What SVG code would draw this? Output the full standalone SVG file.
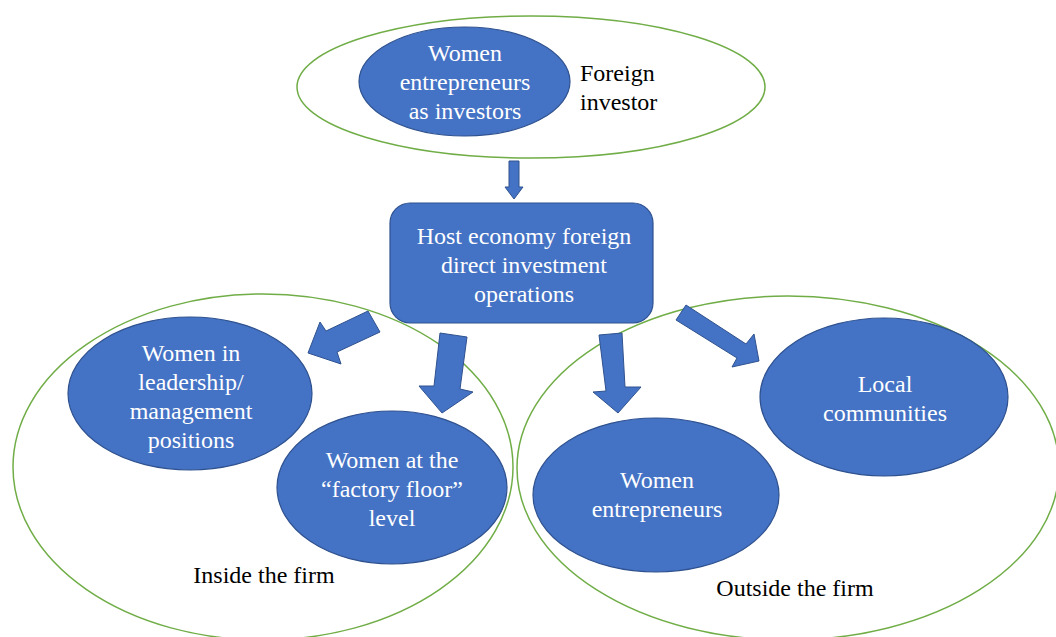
<svg xmlns="http://www.w3.org/2000/svg" width="1056" height="637" viewBox="0 0 1056 637">
<defs>
<style>
.grp{fill:none;stroke:#70AD47;stroke-width:1.5}
.node{fill:#4472C4;stroke:#2F528F;stroke-width:1.2}
.wt{fill:#FFFFFF;text-anchor:middle}
.bt{fill:#000000}
.arr{fill:#4472C4;stroke:#2F528F;stroke-width:1}
</style>
</defs>
<rect width="1056" height="637" fill="#FFFFFF"/>
<g font-family="Liberation Serif, serif" font-size="24">
<g id="group-foreign-investor">
<ellipse class="grp" cx="531" cy="87" rx="234" ry="71"/>
<text class="bt" x="580" y="81">Foreign</text>
<text class="bt" x="580" y="110">investor</text>
</g>
<g id="group-inside">
<ellipse class="grp" cx="263" cy="467" rx="250" ry="173"/>
<text class="bt" x="264" y="583" text-anchor="middle">Inside the firm</text>
</g>
<g id="group-outside">
<ellipse class="grp" cx="788" cy="468" rx="271" ry="172"/>
<text class="bt" x="795" y="596" text-anchor="middle">Outside the firm</text>
</g>
<g id="node-women-investors">
<ellipse class="node" cx="464.5" cy="81.5" rx="105.5" ry="54.5"/>
<text class="wt" x="465" y="61">Women</text>
<text class="wt" x="465" y="90">entrepreneurs</text>
<text class="wt" x="465" y="119">as investors</text>
</g>
<g id="node-host">
<rect class="node" x="390" y="203" width="263" height="120" rx="20" ry="20"/>
<text class="wt" x="524" y="244">Host economy foreign</text>
<text class="wt" x="524" y="273">direct investment</text>
<text class="wt" x="524" y="302">operations</text>
</g>
<g id="node-leadership">
<ellipse class="node" cx="190" cy="393.5" rx="122" ry="76.5"/>
<text class="wt" x="191" y="361">Women in</text>
<text class="wt" x="191" y="390">leadership/</text>
<text class="wt" x="191" y="419">management</text>
<text class="wt" x="191" y="448">positions</text>
</g>
<g id="node-factory">
<ellipse class="node" cx="392" cy="487.5" rx="115" ry="76.5"/>
<text class="wt" x="392" y="468">Women at the</text>
<text class="wt" x="392" y="497">“factory floor”</text>
<text class="wt" x="392" y="526">level</text>
</g>
<g id="node-entrepreneurs">
<ellipse class="node" cx="656" cy="495" rx="123" ry="77"/>
<text class="wt" x="657" y="488">Women</text>
<text class="wt" x="657" y="517">entrepreneurs</text>
</g>
<g id="node-local">
<ellipse class="node" cx="884" cy="397" rx="124" ry="79"/>
<text class="wt" x="885" y="392">Local</text>
<text class="wt" x="885" y="421">communities</text>
</g>
</g>
<g id="connectors">
<polygon class="arr" points="509,161 519,161 519,187 523,187 514,199 505,187 509,187"/>
<polygon class="arr" points="368,311 380,332 337,352 341,364 308,353 320,322 326,331"/>
<polygon class="arr" points="440,333 467,337 460,389 473,392 442,413 419,386 434,386"/>
<polygon class="arr" points="599,335 622,333 625,387 641,387 618,413 593,392 606,391"/>
<polygon class="arr" points="686,305 676,320 737,358 732,367 759,361 754,334 746,344"/>
</g>
</svg>
